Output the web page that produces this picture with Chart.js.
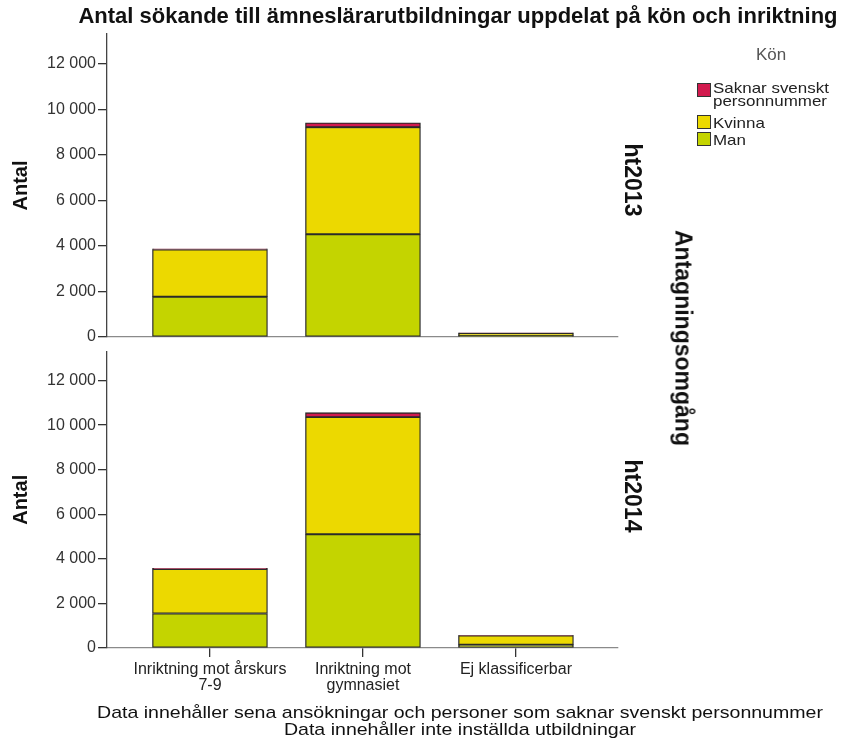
<!DOCTYPE html>
<html><head><meta charset="utf-8">
<script src="https://cdn.jsdelivr.net/npm/chart.js@4"></script>
<style>
html,body{margin:0;padding:0;background:#fff;width:846px;height:745px;overflow:hidden;font-family:"Liberation Sans",Arial,sans-serif;}
canvas{position:absolute;left:0;}
#c1{top:0;}
#c2{top:340px;}
.t{position:absolute;white-space:nowrap;color:#111;line-height:1;}
.rot{transform:translate(-50%,-50%) rotate(90deg);font-weight:bold;}
.ctr{transform:translateX(-50%);text-align:center;}
.sw{position:absolute;width:14px;height:14px;border:1px solid #333;box-sizing:border-box;}
.lt{position:absolute;white-space:nowrap;font-size:15px;color:#222;line-height:13px;transform:scaleX(1.13);transform-origin:0 0;}
</style></head>
<body>
<canvas id="c1" width="846" height="349"></canvas>
<canvas id="c2" width="846" height="365"></canvas>
<div class="t ctr" style="left:458px;top:5px;font-size:22px;font-weight:bold;">Antal sökande till ämneslärarutbildningar uppdelat på kön och inriktning</div>
<div class="t" style="left:756px;top:46px;font-size:17px;color:#555;">Kön</div>
<div id="legend"></div>
<div class="t rot" id="p1" style="left:632px;top:180px;font-size:23px;"></div>
<div class="t rot" id="p2" style="left:632px;top:496px;font-size:23px;"></div>
<div class="t rot" style="left:683px;top:338px;font-size:23px;">Antagningsomgång</div>
<div class="t" style="left:460px;top:704px;font-size:17px;line-height:17px;text-align:center;transform:translateX(-50%) scaleX(1.15);">Data innehåller sena ansökningar och personer som saknar svenskt personnummer<br>Data innehåller inte inställda utbildningar</div>
<script>
// ---- data ----
const categories = [["Inriktning mot årskurs", "7-9"], ["Inriktning mot", "gymnasiet"], "Ej klassificerbar"];
const categoryIndex = [0, 1, 2];
const panels = ["ht2013", "ht2014"];
const seriesNames = ["Saknar svenskt personnummer", "Kvinna", "Man"];
const man2013 = [1770, 4510, 60];
const kvinna2013 = [2070, 4700, 110];
const saknar2013 = [35, 190, 10];
const man2014 = [1550, 5100, 150];
const kvinna2014 = [1990, 5260, 410];
const saknar2014 = [35, 200, 10];
const yTicks = [0, 2000, 4000, 6000, 8000, 10000, 12000];
const yMax = 13300;

// ---- styles ----
const colors = {"Man": "#c4d400", "Kvinna": "#ecd900", "Saknar svenskt personnummer": "#d21a4e"};
const FONT = "'Liberation Sans', Arial, sans-serif";
Chart.defaults.font.family = FONT;
Chart.defaults.color = "#222";

document.getElementById('p1').textContent = panels[0];
document.getElementById('p2').textContent = panels[1];
// legend (built from the series names)
const leg = document.getElementById('legend');
const legendLayout = {
  "Saknar svenskt personnummer": {sw: 83, tx: 80.5, html: "Saknar svenskt<br>personnummer"},
  "Kvinna": {sw: 115, tx: 115.5},
  "Man": {sw: 132, tx: 132.5}
};
seriesNames.forEach(n => {
  const L = legendLayout[n];
  const s = document.createElement('div');
  s.className = 'sw';
  s.style.left = '697px'; s.style.top = L.sw + 'px'; s.style.background = colors[n];
  leg.appendChild(s);
  const t = document.createElement('div');
  t.className = 'lt';
  t.style.left = '713px'; t.style.top = L.tx + 'px';
  t.innerHTML = L.html || n;
  leg.appendChild(t);
});

function ds(man, kvinna, saknar) {
  const mk = (label, arr) => ({
    label, data: arr.map((v, i) => ({x: categoryIndex[i], y: v})),
    backgroundColor: colors[label], borderColor: '#2a2a2a', borderWidth: 1.3,
    barThickness: 115, borderSkipped: false
  });
  return [mk("Man", man), mk("Kvinna", kvinna), mk("Saknar svenskt personnummer", saknar)];
}

function makeChart(id, datasets, bottom, padTop) {
  return new Chart(document.getElementById(id), {
    type: 'bar',
    data: {datasets},
    options: {
      responsive: false, animation: false, devicePixelRatio: 1,
      layout: {padding: {left: 0, right: 228, top: padTop, bottom: 0}},
      plugins: {legend: {display: false}, tooltip: {enabled: false}},
      scales: {
        x: {
          type: 'linear', stacked: true, min: -0.673, max: 2.667, bounds: 'data', offset: false,
          afterFit: s => { s.height = bottom ? 57 : 12; },
          afterBuildTicks: s => { s.ticks = categoryIndex.map(v => ({value: v})); },
          border: {display: true, color: '#8a8a8a', width: 1.3},
          grid: {display: bottom, offset: false, drawOnChartArea: false, drawTicks: true, tickLength: 9, color: '#333', lineWidth: 1.3},
          ticks: {
            display: bottom, autoSkip: false,
            maxRotation: 0, minRotation: 0, padding: 5,
            font: {size: 16, lineHeight: 1.0}, color: '#222',
            callback: v => categories[v] !== undefined ? categories[v] : ''
          }
        },
        y: {
          stacked: true, min: 0, max: yMax,
          afterFit: s => { s.width = 107; },
          afterBuildTicks: s => { s.ticks = yTicks.map(v => ({value: v})); },
          border: {display: true, color: '#444', width: 1.3},
          grid: {drawOnChartArea: false, drawTicks: true, tickLength: 9, color: '#333', lineWidth: 1.3},
          ticks: {font: {size: 16}, color: '#333', padding: 2,
            callback: v => v.toLocaleString('sv-SE')},
          title: {display: true, text: 'Antal', font: {size: 20, weight: 'bold'}, color: '#111', padding: {top: 9, bottom: 0}}
        }
      }
    }
  });
}
makeChart('c1', ds(man2013, kvinna2013, saknar2013), false, 34);
makeChart('c2', ds(man2014, kvinna2014, saknar2014), true, 5);
</script>
</body></html>
